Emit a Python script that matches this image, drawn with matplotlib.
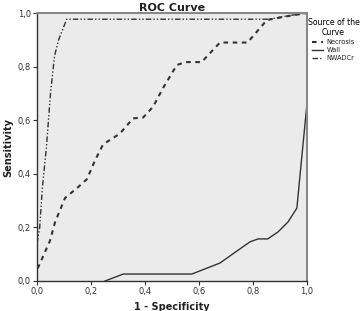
import numpy as np
import matplotlib
matplotlib.use("Agg")
from matplotlib import pyplot as plt

# ROC curves
necrosis_x = [0.0, 0.004, 0.048, 0.067, 0.104, 0.152, 0.185, 0.215, 0.245, 0.27, 0.307,
              0.356, 0.393, 0.43, 0.467, 0.518, 0.55, 0.61, 0.678, 0.78, 0.852, 0.937, 1.0]
necrosis_y = [0.05, 0.05, 0.15, 0.22, 0.31, 0.35, 0.38, 0.45, 0.51, 0.526, 0.55,
              0.607, 0.61, 0.65, 0.72, 0.806, 0.817, 0.817, 0.89, 0.89, 0.974, 0.99, 1.0]

wall_x = [0.252, 0.32, 0.574, 0.678, 0.789, 0.819, 0.855, 0.893, 0.93, 0.963, 0.98, 1.0]
wall_y = [0.0, 0.026, 0.026, 0.067, 0.146, 0.157, 0.157, 0.183, 0.22, 0.272, 0.45, 0.657]

nwadcr_x = [0.0, 0.01, 0.02, 0.035, 0.05, 0.065, 0.08, 0.11, 0.86, 0.93, 1.0]
nwadcr_y = [0.14, 0.2, 0.35, 0.5, 0.7, 0.84, 0.9, 0.977, 0.977, 0.99, 1.0]

ticks = [0.0, 0.2, 0.4, 0.6, 0.8, 1.0]
tick_labels = ["0,0", "0,2", "0,4", "0,6", "0,8", "1,0"]

fig = plt.figure(figsize=(3.61, 3.11), dpi=100)
ax = fig.add_axes([0.1025, 0.0965, 0.7475, 0.8615])
ax.set_facecolor("#ebebeb")

ax.plot(necrosis_x, necrosis_y, color="#333333", lw=1.5, linestyle=(0, (2.2, 2.2)), label="Necrosis")
ax.plot(wall_x, wall_y, color="#333333", lw=1.0, linestyle="-", label="Wall")
ax.plot(nwadcr_x, nwadcr_y, color="#333333", lw=1.0,
        linestyle=(0, (4, 1.5, 1, 1.5, 1, 1.5)), label="NWADCr")

ax.set_xlim(0, 1)
ax.set_ylim(0, 1)
ax.set_xticks(ticks)
ax.set_xticklabels(tick_labels)
ax.set_yticks(ticks)
ax.set_yticklabels(tick_labels)
ax.tick_params(labelsize=6, length=3, width=0.8, color="#333333", labelcolor="#333333", pad=1.5)

for side in ["left", "bottom"]:
    ax.spines[side].set_color("#333333")
    ax.spines[side].set_linewidth(1.0)
for side in ["top", "right"]:
    ax.spines[side].set_color("#888888")
    ax.spines[side].set_linewidth(1.5)

ax.set_xlabel("1 - Specificity", fontsize=7, fontweight="bold", color="#222222", labelpad=4)
ax.set_ylabel("Sensitivity", fontsize=7, fontweight="bold", color="#222222", labelpad=3)
ax.set_title("ROC Curve", fontsize=8, fontweight="bold", color="#222222", pad=0)

leg = ax.legend(loc="upper left", bbox_to_anchor=(0.995, 0.99), frameon=False,
                title="Source of the\nCurve", fontsize=4.8, title_fontsize=5.6,
                handlelength=1.6, handletextpad=0.5, labelspacing=0.3, borderpad=0.1,
                borderaxespad=0.2)
leg.get_title().set_multialignment("center")
for t in leg.get_texts():
    t.set_color("#222222")

plt.savefig("out.png", dpi=100)
plt.close()
